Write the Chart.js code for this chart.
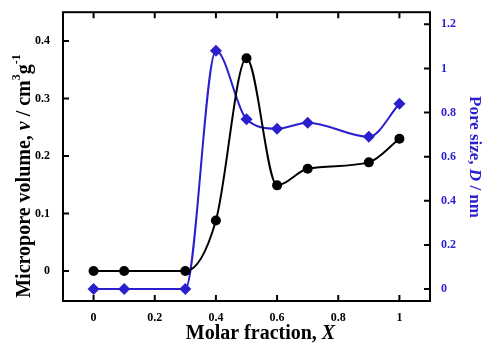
<!DOCTYPE html>
<html>
<head>
<meta charset="utf-8">
<script src="https://cdn.jsdelivr.net/npm/chart.js@4/dist/chart.umd.min.js"></script>
<style>
    html, body { margin: 0; padding: 0; background: #fff; }
    #wrap { width: 482px; height: 343px; }
</style>
</head>
<body>
<div id="wrap"><canvas id="chart" width="482" height="343"></canvas></div>
<script>
// data
const fractions = [0, 0.1, 0.3, 0.4, 0.5, 0.6, 0.7, 0.9, 1];
const microporeVolume = [0, 0, 0, 0.088, 0.37, 0.149, 0.178, 0.189, 0.23];
const poreSize = [0, 0, 0, 1.08, 0.77, 0.727, 0.754, 0.69, 0.84];

const xTicks = [0, 0.2, 0.4, 0.6, 0.8, 1];
const leftTicks = [0, 0.1, 0.2, 0.3, 0.4];
const rightTicks = [0, 0.2, 0.4, 0.6, 0.8, 1, 1.2];

const BLUE = '#2a1fcc';
const tickFont = {family: '"Liberation Serif", serif', size: 12, weight: 'bold'};

const toPoints = (xs, ys) => xs.map((x, i) => ({x: x, y: ys[i]}));
const fixTicks = list => scale => { scale.ticks = list.map(v => ({value: v})); };

// inward ticks, frame and titles (titles have italic parts)
const framePlugin = {
    id: 'frame',
    afterDraw(chart) {
        const ctx = chart.ctx;
        const a = chart.chartArea;
        const x = chart.scales.x, y = chart.scales.y, y2 = chart.scales.y2;
        const len = 6;
        ctx.save();
        ctx.strokeStyle = '#000';
        ctx.lineWidth = 2;
        ctx.beginPath();
        xTicks.forEach(v => {
            const px = x.getPixelForValue(v);
            ctx.moveTo(px, a.bottom); ctx.lineTo(px, a.bottom - len);
            ctx.moveTo(px, a.top); ctx.lineTo(px, a.top + len);
        });
        leftTicks.forEach(v => {
            const py = y.getPixelForValue(v);
            ctx.moveTo(a.left, py); ctx.lineTo(a.left + len, py);
        });
        rightTicks.forEach(v => {
            const py = y2.getPixelForValue(v);
            ctx.moveTo(a.right, py); ctx.lineTo(a.right - len, py);
        });
        ctx.stroke();
        ctx.strokeRect(a.left, a.top, a.right - a.left, a.bottom - a.top);

        // draw a title made of [text, italic, font, dy] runs, centered
        function runs(parts, cx, cy, angle, color) {
            ctx.save();
            ctx.translate(cx, cy);
            ctx.rotate(angle);
            ctx.fillStyle = color;
            ctx.textBaseline = 'middle';
            ctx.textAlign = 'left';
            let total = 0;
            parts.forEach(p => { ctx.font = p[2]; total += ctx.measureText(p[0]).width; });
            let px = -total / 2;
            parts.forEach(p => {
                ctx.font = p[2];
                ctx.fillText(p[0], px, p[3] || 0);
                px += ctx.measureText(p[0]).width;
            });
            ctx.restore();
        }
        const serif = 'px "Liberation Serif", serif';
        const B = 'bold 20' + serif;
        const BI = 'italic bold 20' + serif;
        const S = 'bold 12' + serif;
        runs([['Molar fraction, ', 0, B], ['X', 1, BI]],
                (a.left + a.right) / 2 + 14, 334, 0, '#000');
        runs([['Micropore volume, ', 0, B], ['v', 1, BI], [' / cm', 0, B], ['3', 0, S, -8],
              ['g', 0, B], ['-1', 0, S, -8]],
                25, 176, -Math.PI / 2, '#000');
        runs([['Pore size, ', 0, 'bold 17' + serif], ['D', 1, 'italic bold 17' + serif],
              [' / nm', 0, 'bold 17' + serif]],
                474, 157, Math.PI / 2, BLUE);
        ctx.restore();
    }
};

new Chart(document.getElementById('chart'), {
    type: 'line',
    data: {
        datasets: [{
                label: 'Micropore volume',
                data: toPoints(fractions, microporeVolume),
                yAxisID: 'y',
                borderColor: '#000',
                backgroundColor: '#000',
                borderWidth: 2,
                cubicInterpolationMode: 'monotone',
                pointStyle: 'circle',
                pointRadius: 5,
                pointBorderWidth: 0
            }, {
                label: 'Pore size',
                data: toPoints(fractions, poreSize),
                yAxisID: 'y2',
                borderColor: BLUE,
                backgroundColor: BLUE,
                borderWidth: 2,
                cubicInterpolationMode: 'monotone',
                pointStyle: 'rectRot',
                pointRadius: 6,
                pointBorderWidth: 0
            }]
    },
    options: {
        responsive: false,
        animation: false,
        layout: {padding: {top: 11, left: 0, right: 0, bottom: 0}},
        plugins: {legend: {display: false}, tooltip: {enabled: false}},
        scales: {
            x: {
                type: 'linear',
                min: -0.1,
                max: 1.1,
                afterBuildTicks: fixTicks(xTicks),
                afterFit: s => { s.height = 42; },
                grid: {display: false},
                border: {display: false},
                ticks: {font: tickFont, color: '#000', padding: 2, maxRotation: 0,
                    callback: v => String(v)}
            },
            y: {
                position: 'left',
                min: -0.052,
                max: 0.45,
                afterBuildTicks: fixTicks(leftTicks),
                afterFit: s => { s.width = 63; },
                grid: {display: false},
                border: {display: false},
                ticks: {font: tickFont, color: '#000', padding: 5, callback: v => String(v)}
            },
            y2: {
                position: 'right',
                min: -0.054,
                max: 1.255,
                afterBuildTicks: fixTicks(rightTicks),
                afterFit: s => { s.width = 52; },
                grid: {display: false},
                border: {display: false},
                ticks: {font: tickFont, color: BLUE, padding: 3, callback: v => String(v)}
            }
        }
    },
    plugins: [framePlugin]
});
</script>
</body>
</html>
